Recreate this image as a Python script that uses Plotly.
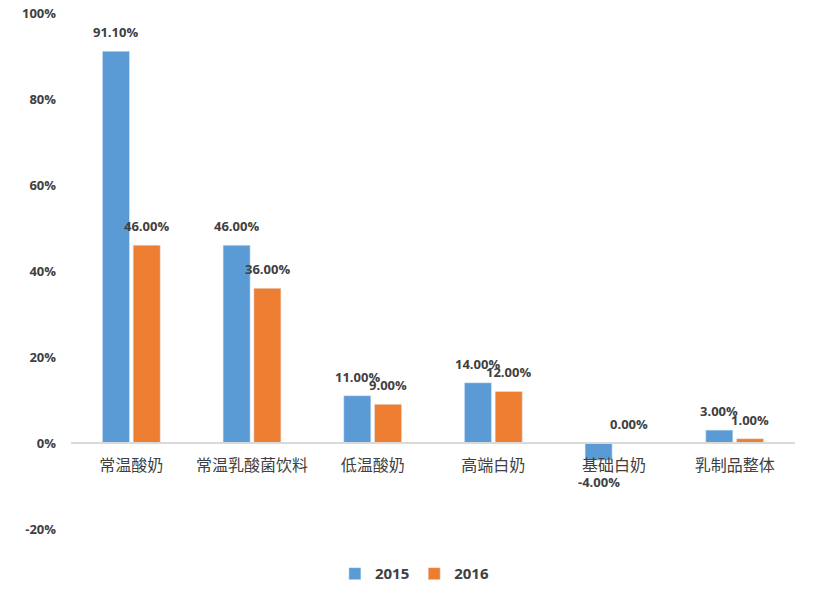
import plotly.graph_objects as go

categories = ["常温酸奶", "常温乳酸菌饮料", "低温酸奶", "高端白奶", "基础白奶", "乳制品整体"]
values_2015 = [91.10, 46.00, 11.00, 14.00, -4.00, 3.00]
values_2016 = [46.00, 36.00, 9.00, 12.00, 0.00, 1.00]
y_ticks = [-20, 0, 20, 40, 60, 80, 100]

label_font = dict(family="Open Sans", size=13, color="#404040", weight="bold")

fig = go.Figure()
fig.add_trace(go.Bar(x=categories, y=values_2015, name="2015", marker_color="#5B9BD5"))
fig.add_trace(go.Bar(x=categories, y=values_2016, name="2016", marker_color="#ED7D31"))

# data labels placed above / below each bar via the axis scales
for vals, dx in ((values_2015, -15.4), (values_2016, 15.4)):
    for c, v in zip(categories, vals):
        fig.add_annotation(
            x=c, y=v, xref="x", yref="y", text=f"{v:.2f}%", showarrow=False,
            xshift=dx, yshift=19 if v >= 0 else -22, yanchor="middle",
            font=label_font,
        )

fig.update_layout(
    width=826, height=602,
    margin=dict(l=71, r=31, t=13, b=73, autoexpand=False),
    plot_bgcolor="white", paper_bgcolor="white",
    barmode="group", bargap=0.49, bargroupgap=0.12,
    showlegend=True,
    legend=dict(orientation="h", x=0.475, xanchor="center", y=-0.055, yanchor="top",
                font=dict(family="Open Sans", size=15, color="#404040", weight="bold"),
                itemwidth=30, traceorder="normal"),
    font=dict(family="Open Sans", color="#404040"),
)
fig.update_xaxes(
    anchor="free", position=1/6, automargin=False,
    showline=True, linecolor="#D9D9D9", linewidth=1.5,
    ticks="", showgrid=False,
    tickfont=dict(family="Noto Sans CJK SC", size=16, color="#404040"),
    ticklabelstandoff=8,
)
fig.update_yaxes(
    range=[-20, 100], tickvals=y_ticks, ticktext=[f"{v}%" for v in y_ticks],
    showgrid=False, zeroline=False, showline=False, automargin=False,
    tickfont=dict(family="Open Sans", size=13, color="#404040", weight="bold"),
    ticklabelstandoff=14, ticklabeloverflow="allow",
)
fig.write_html(
    "out.html",
    config={"displayModeBar": False},
    post_script="document.body.style.margin='0';document.body.style.overflow='hidden';",
)
